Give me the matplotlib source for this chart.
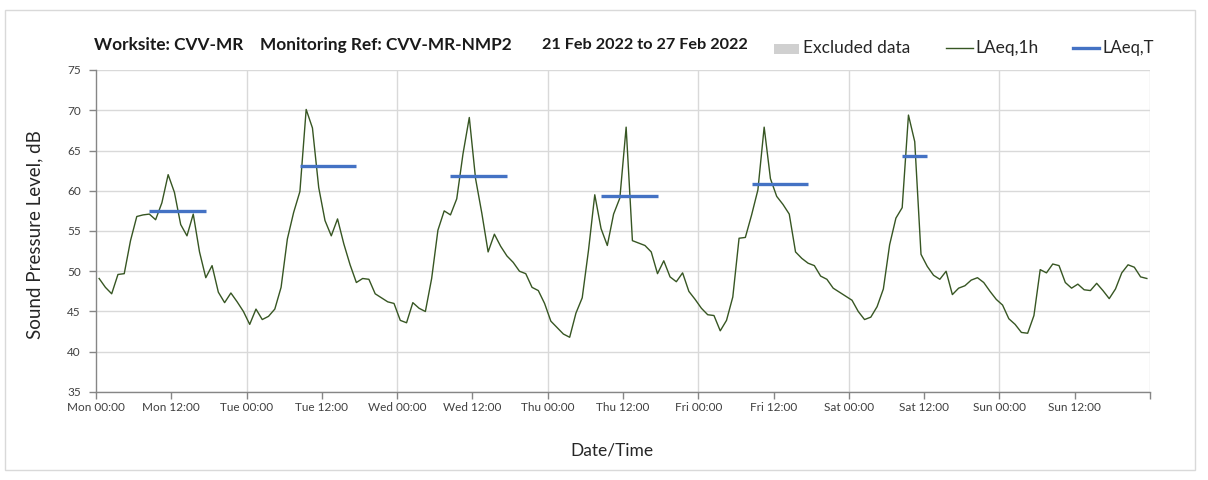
import numpy as np
import matplotlib
matplotlib.use("Agg")
import matplotlib.pyplot as plt
from matplotlib.patches import Rectangle
from matplotlib.lines import Line2D

plt.rcParams['font.family'] = ['Lato', 'DejaVu Sans']

# ---- data ----
days = ["Mon", "Tue", "Wed", "Thu", "Fri", "Sat", "Sun"]
laeq_1h_mon = [49.1, 48.0, 47.2, 49.6, 49.7, 53.8, 56.8, 57.0, 57.1, 56.4, 58.5, 62.0,
               59.8, 55.8, 54.4, 57.1, 52.4, 49.2, 50.7, 47.4, 46.1, 47.3, 46.2, 45.0]
laeq_1h_tue = [43.4, 45.3, 44.0, 44.4, 45.3, 48.0, 54.0, 57.3, 59.9, 70.1, 67.8, 60.4,
               56.3, 54.4, 56.5, 53.4, 50.8, 48.6, 49.1, 49.0, 47.2, 46.7, 46.2, 46.0]
laeq_1h_wed = [43.9, 43.6, 46.1, 45.4, 45.0, 49.1, 55.1, 57.5, 57.0, 59.0, 64.6, 69.1,
               61.5, 57.2, 52.4, 54.6, 53.1, 51.9, 51.1, 50.0, 49.7, 48.0, 47.6, 46.0]
laeq_1h_thu = [43.8, 43.0, 42.2, 41.8, 44.8, 46.7, 52.6, 59.5, 55.3, 53.2, 57.1, 59.1,
               67.9, 53.8, 53.5, 53.2, 52.4, 49.7, 51.3, 49.3, 48.7, 49.8, 47.5, 46.5]
laeq_1h_fri = [45.4, 44.6, 44.5, 42.6, 43.9, 46.8, 54.1, 54.2, 57.0, 60.1, 67.9, 61.5,
               59.3, 58.3, 57.1, 52.4, 51.6, 51.0, 50.7, 49.4, 49.0, 47.9, 47.4, 46.9]
laeq_1h_sat = [46.4, 45.0, 44.0, 44.3, 45.6, 47.8, 53.3, 56.6, 57.9, 69.4, 66.1, 52.1,
               50.6, 49.5, 49.0, 50.0, 47.1, 47.9, 48.2, 48.9, 49.2, 48.6, 47.5, 46.5]
laeq_1h_sun = [45.8, 44.1, 43.4, 42.4, 42.3, 44.5, 50.2, 49.8, 50.9, 50.7, 48.6, 47.9,
               48.4, 47.7, 47.6, 48.5, 47.6, 46.6, 47.8, 49.8, 50.8, 50.5, 49.3, 49.1]

# LAeq,T per day: day index, period start hour, period end hour, level
laeq_t_day = [0, 1, 2, 3, 4, 5]
laeq_t_start = [8, 8, 8, 8, 8, 8]
laeq_t_end = [18, 18, 18, 18, 18, 13]
laeq_t_level = [57.5, 63.1, 61.8, 59.4, 60.8, 64.3]

tick_labels = [f"{d} {t}" for d in days for t in ("00:00", "12:00")]
legend_labels = ["Excluded data", "LAeq,1h", "LAeq,T"]
title_parts = ["Worksite: CVV-MR", "Monitoring Ref: CVV-MR-NMP2", "21 Feb 2022 to 27 Feb 2022"]

# ---- build ----
hourly = np.concatenate([laeq_1h_mon, laeq_1h_tue, laeq_1h_wed, laeq_1h_thu,
                         laeq_1h_fri, laeq_1h_sat, laeq_1h_sun])
hours = np.arange(len(hourly)) + 0.5  # mid-hour

W, H = 1208, 480
fig = plt.figure(figsize=(W / 100, H / 100), dpi=100)


def fx(px):
    return px / W


def fy(py):
    return (H - py) / H


fig.patches.append(Rectangle((fx(5), fy(470)), 1190 / W, 460 / H, transform=fig.transFigure,
                             fill=False, edgecolor="#d9d9d9", linewidth=1.0))

ax = fig.add_axes([fx(96), fy(392), (1150 - 96) / W, (392 - 70) / H])

grid_c = "#d9d9d9"
axis_c = "#868686"
for d in range(1, 8):
    ax.axvline(d * 24, color=grid_c, linewidth=1.0, zorder=0)
ax.yaxis.grid(True, color=grid_c, linewidth=1.0, zorder=0)
ax.set_axisbelow(True)

green = "#375623"
blue = "#4472C4"
ax.plot(hours, hourly, color=green, linewidth=1.0, zorder=3)
for d, s, e, lv in zip(laeq_t_day, laeq_t_start, laeq_t_end, laeq_t_level):
    ax.plot([d * 24 + s + 0.5, d * 24 + e - 0.5], [lv, lv], color=blue, linewidth=2.4,
            solid_capstyle="butt", zorder=4)

ax.set_xlim(0, 168)
ax.set_ylim(35, 75)
ax.set_yticks(np.arange(35, 76, 5))
ax.set_xticks(np.arange(0, 169, 12))
ax.set_xticklabels(tick_labels + [""])

for s in ("top", "right"):
    ax.spines[s].set_visible(False)
for s in ("left", "bottom"):
    ax.spines[s].set_color(axis_c)
    ax.spines[s].set_linewidth(1.0)
ax.tick_params(axis="both", colors=axis_c, length=5, width=1.0, direction="out",
               labelcolor="#404040", labelsize=8.5)
ax.tick_params(axis="x", pad=2)
ax.tick_params(axis="y", pad=6)

fig.text(fx(35), fy(235), "Sound Pressure Level, dB", fontsize=13.5, color="#262626",
         rotation=90, ha="center", va="center")
fig.text(fx(612), fy(451), "Date/Time", fontsize=12.5, color="#262626",
         ha="center", va="center")

# title pieces
for txt, px, fs in zip(title_parts, [94, 260, 542], [12.4, 12.4, 11.7]):
    fig.text(fx(px), fy(45), txt, fontsize=fs, fontweight="bold", color="#1a1a1a",
             ha="left", va="center")

# legend (manual)
fig.patches.append(Rectangle((fx(774), fy(54)), 25 / W, 10 / H, transform=fig.transFigure,
                             facecolor="#d0d0d0", edgecolor="none"))
fig.text(fx(803), fy(48), legend_labels[0], fontsize=12.5, color="#262626", va="center")
fig.lines.append(Line2D([fx(946), fx(973)], [fy(48), fy(48)], transform=fig.transFigure,
                        color=green, linewidth=1.0))
fig.text(fx(975), fy(48), legend_labels[1], fontsize=12.5, color="#262626", va="center")
fig.lines.append(Line2D([fx(1073), fx(1099)], [fy(48), fy(48)], transform=fig.transFigure,
                        color=blue, linewidth=2.4))
fig.text(fx(1102), fy(48), legend_labels[2], fontsize=12, color="#262626", va="center")

fig.savefig("out.png", dpi=100, facecolor="white")
